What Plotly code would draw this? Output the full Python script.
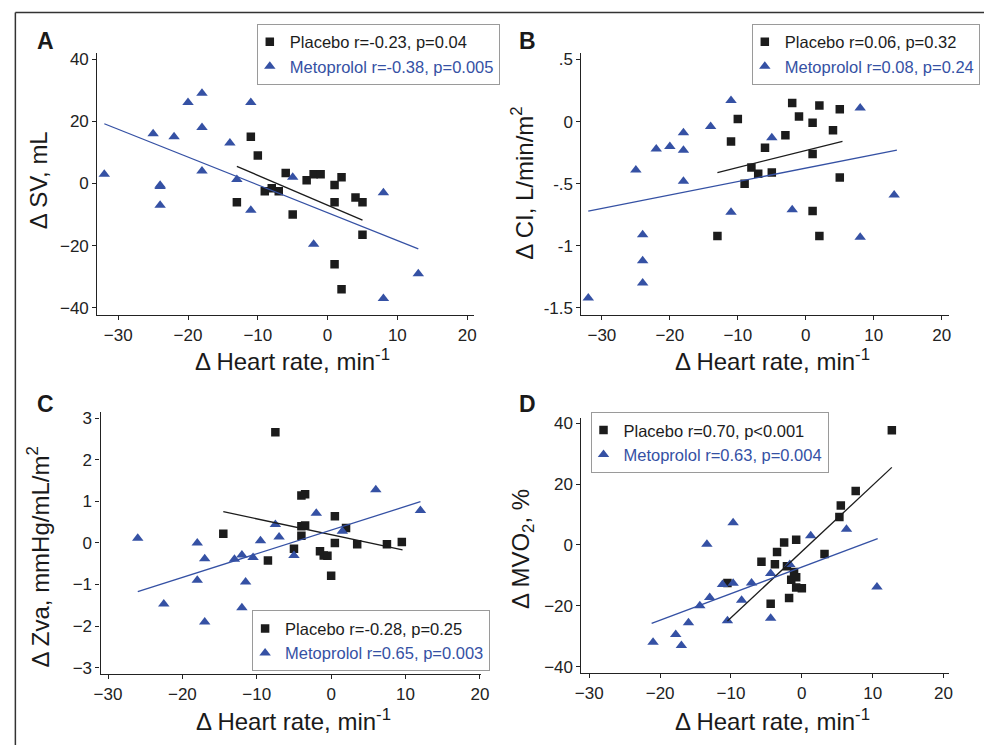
import plotly.graph_objects as go

W, H = 992, 748
BLUE = '#3551a4'
BLACK = '#1c1c1c'
FONT = 'Liberation Sans, Arial, sans-serif'

# ---------------- Panel A : delta SV ----------------
a_pla_x = [-11, -10, -13, -9, -8, -7, -6, -5, -3, -2, -1, 1, 2, 1, 4, 5, 5, 1, 2]
a_pla_y = [15, 9, -6, -2.5, -1.5, -2.5, 3.4, -10, 1, 3, 3, -0.5, 2, -6, -4.5, -6, -16.5, -26, -34]
a_met_x = [-32, -25, -22, -20, -18, -18, -18, -24, -24, -24, -14, -11, -13, -11, -5, -2, 8, 13, 8]
a_met_y = [3, 16, 15, 26, 29, 18, 4, -0.6, -1, -7, 13, 26, 1.3, -8.6, 2, -19.5, -3, -29, -37]
a_pla_fit_x, a_pla_fit_y = [-13, 5], [5.5, -11.8]
a_met_fit_x, a_met_fit_y = [-32, 13], [19.2, -21.0]
a_labels = ['Placebo r=-0.23, p=0.04', 'Metoprolol r=-0.38, p=0.005']

# ---------------- Panel B : delta CI ----------------
b_pla_x = [-10, -11, -13, -8, -7, -9, -5, -6, -3, -2, -1, 1, 2, 1, 4, 5, 5, 1, 2]
b_pla_y = [0.02, -0.16, -0.92, -0.37, -0.42, -0.50, -0.41, -0.21, -0.11, 0.15, 0.04, -0.01, 0.13, -0.26, -0.07, 0.10, -0.45, -0.72, -0.92]
b_met_x = [-32, -24, -24, -24, -25, -22, -20, -18, -18, -18, -14, -11, -11, -5, -2, 8, 8, 13]
b_met_y = [-1.42, -0.91, -1.12, -1.30, -0.39, -0.22, -0.20, -0.09, -0.23, -0.48, -0.04, 0.17, -0.73, -0.13, -0.71, 0.11, -0.93, -0.59]
b_pla_fit_x, b_pla_fit_y = [-13, 5.4], [-0.41, -0.16]
b_met_fit_x, b_met_fit_y = [-32, 13.4], [-0.72, -0.23]
b_labels = ['Placebo r=0.06, p=0.32', 'Metoprolol r=0.08, p=0.24']

# ---------------- Panel C : delta Zva ----------------
c_pla_x = [-7.5, -14.5, -8.5, -4, -3.5, -4, -3.5, -4, -5, -1.5, -1, -0.5, 0, 0.5, 0.5, 2, 3.5, 7.5, 9.5]
c_pla_y = [2.66, 0.22, -0.42, 1.14, 1.17, 0.40, 0.42, 0.17, -0.14, -0.20, -0.30, -0.31, -0.79, 0.64, 0.0, 0.36, -0.03, -0.03, 0.02]
c_met_x = [-26, -22.5, -18, -17, -18, -17, -13, -12, -11.5, -12, -10.5, -9.5, -7.5, -7, -5, -2, 1.5, 6, 12]
c_met_y = [0.11, -1.47, 0.0, -0.38, -0.90, -1.90, -0.39, -0.29, -0.94, -1.56, -0.35, 0.05, 0.44, 0.14, -0.30, 0.71, 0.28, 1.28, 0.78]
c_pla_fit_x, c_pla_fit_y = [-14.5, 9.6], [0.75, -0.17]
c_met_fit_x, c_met_fit_y = [-26, 12], [-1.17, 0.99]
c_labels = ['Placebo r=-0.28, p=0.25', 'Metoprolol r=0.65, p=0.003']

# ---------------- Panel D : delta MVO2 ----------------
d_pla_x = [12.7, 7.6, 5.5, 5.3, 3.2, -0.8, -2.5, -3.5, -5.7, -3.8, -2.1, -1.1, -1.5, -0.8, -0.8, 0, -1.8, -4.4, -10.5]
d_pla_y = [37.7, 17.7, 13, 9.2, -3, 1.7, 0.8, -2.3, -5.5, -6.3, -7, -8.9, -11.4, -10.6, -14, -14.2, -17.4, -19.3, -12.5]
d_met_x = [-21, -17.8, -17, -16, -14.4, -13, -13.4, -9.7, -11.2, -9.7, -10.5, -8.5, -7.1, -4.4, -4.4, -1.7, 1.25, 6.3, 10.6]
d_met_y = [-32, -29.4, -33, -25.6, -20, -17.3, 0.2, 7.3, -13, -12.6, -24.9, -18.2, -12.5, -9.4, -24.1, -6.4, 3, 5.2, -13.8]
d_pla_fit_x, d_pla_fit_y = [-10.5, 12.7], [-25.0, 25.5]
d_met_fit_x, d_met_fit_y = [-21.2, 10.7], [-25.8, 2.1]
d_labels = ['Placebo r=0.70, p<0.001', 'Metoprolol r=0.63, p=0.004']

x_ticks = [-30, -20, -10, 0, 10, 20]
x_title = 'Δ Heart rate, min<sup>-1</sup>'
y_titles = ['Δ SV, mL', 'Δ CI, L/min/m<sup>2</sup>', 'Δ Zva, mmHg/mL/m<sup>2</sup>', 'Δ MVO<sub>2</sub>, %']
panel_letters = ['A', 'B', 'C', 'D']

# pixel layout helpers
def fx(p):
    return p / W

def fy(p):
    return 1 - p / H

panels = [
    dict(data=(a_pla_x, a_pla_y, a_met_x, a_met_y, a_pla_fit_x, a_pla_fit_y, a_met_fit_x, a_met_fit_y),
         labels=a_labels, box=(91.7, 474.3, 49.3, 314), xr=[-33, 21], yr=[-42.3, 42.0],
         yt=[-40, -20, 0, 20, 40], ytt=None,
         leg=(377, 50.5), letter=(39.5, 37.5), ytitle=(32, 178.3), xtitle=(290, 359)),
    dict(data=(b_pla_x, b_pla_y, b_met_x, b_met_y, b_pla_fit_x, b_pla_fit_y, b_met_fit_x, b_met_fit_y),
         labels=b_labels, box=(583.3, 956, 49.3, 314), xr=[-33, 21], yr=[-1.557, 0.553],
         yt=[-1.5, -1, -0.5, 0, 0.5], ytt=['-1.5', '-1', '-.5', '0', '.5'],
         leg=(872, 50.5), letter=(528.3, 37), ytitle=(523, 181.3), xtitle=(777, 359)),
    dict(data=(c_pla_x, c_pla_y, c_met_x, c_met_y, c_pla_fit_x, c_pla_fit_y, c_met_fit_x, c_met_fit_y),
         labels=c_labels, box=(95, 481.7, 411.7, 676.7), xr=[-31, 20.2], yr=[-3.16, 3.15],
         yt=[-3, -2, -1, 0, 1, 2, 3], ytt=None,
         leg=(369.7, 642.8), letter=(38.8, 403.3), ytitle=(32, 558.3), xtitle=(291, 722.5)),
    dict(data=(d_pla_x, d_pla_y, d_met_x, d_met_y, d_pla_fit_x, d_pla_fit_y, d_met_fit_x, d_met_fit_y),
         labels=d_labels, box=(583.3, 956.7, 417.7, 675.7), xr=[-31.1, 20.8], yr=[-42.2, 41.8],
         yt=[-40, -20, 0, 20, 40], ytt=None,
         leg=(713.3, 442.5), letter=(528.3, 403.3), ytitle=(524, 550), xtitle=(777, 722.5)),
]

fig = go.Figure()
annotations = []
layout = dict()

for i, p in enumerate(panels):
    sfx = '' if i == 0 else str(i + 1)
    xa, ya = 'x' + sfx, 'y' + sfx
    lg = 'legend' + sfx
    px_, py_, mx_, my_, pfx, pfy, mfx, mfy = p['data']
    fig.add_trace(go.Scatter(x=px_, y=py_, mode='markers', xaxis=xa, yaxis=ya, legend=lg,
                             name=p['labels'][0],
                             marker=dict(symbol='square', size=8.5, color=BLACK)))
    fig.add_trace(go.Scatter(x=mx_, y=my_, mode='markers', xaxis=xa, yaxis=ya, legend=lg,
                             name='<span style="color:%s">%s</span>' % (BLUE, p['labels'][1]),
                             marker=dict(symbol='triangle-up', size=10, color=BLUE)))
    fig.add_trace(go.Scatter(x=pfx, y=pfy, mode='lines', xaxis=xa, yaxis=ya, showlegend=False,
                             line=dict(color=BLACK, width=1.3)))
    fig.add_trace(go.Scatter(x=mfx, y=mfy, mode='lines', xaxis=xa, yaxis=ya, showlegend=False,
                             line=dict(color=BLUE, width=1.3)))

    x0, x1, y0, y1 = p['box']
    axis_common = dict(showline=True, linecolor='#222', linewidth=1.2, ticks='outside', ticklen=4,
                       tickwidth=1, tickcolor='#222', showgrid=False, zeroline=False,
                       tickfont=dict(family=FONT, size=17, color='#222'), fixedrange=True)
    layout['xaxis' + sfx] = dict(domain=[fx(x0), fx(x1)], range=p['xr'], anchor=ya,
                                 tickmode='array', tickvals=x_ticks, **axis_common)
    yaxis = dict(domain=[fy(y1), fy(y0)], range=p['yr'], anchor=xa, tickmode='array',
                 tickvals=p['yt'], **axis_common)
    if p['ytt'] is not None:
        yaxis['ticktext'] = p['ytt']
    layout['yaxis' + sfx] = yaxis

    lx, ly = p['leg']
    layout[lg] = dict(x=fx(lx), y=fy(ly), xanchor='center', yanchor='middle', xref='paper',
                      yref='paper', bgcolor='white', bordercolor='#9a9a9a', borderwidth=1,
                      font=dict(family=FONT, size=16.5, color=BLACK), itemwidth=30,
                      indentation=-8, tracegroupgap=0)

    ltx, lty = p['letter']
    annotations.append(dict(text='<b>%s</b>' % panel_letters[i], x=fx(ltx), y=fy(lty),
                            xref='paper', yref='paper', xanchor='center', yanchor='middle',
                            showarrow=False, font=dict(family=FONT, size=23, color='#1a1a1a')))
    tx, ty = p['ytitle']
    annotations.append(dict(text=y_titles[i], x=fx(tx), y=fy(ty), xref='paper', yref='paper',
                            xanchor='center', yanchor='middle', textangle=-90, showarrow=False,
                            font=dict(family=FONT, size=24, color='#1a1a1a')))
    tx, ty = p['xtitle']
    annotations.append(dict(text=x_title, x=fx(tx), y=fy(ty), xref='paper', yref='paper',
                            xanchor='center', yanchor='middle', showarrow=False,
                            font=dict(family=FONT, size=24, color='#1a1a1a')))

shapes = [
    dict(type='line', xref='paper', yref='paper', x0=fx(8.5), x1=fx(8.5), y0=0, y1=fy(8.5),
         line=dict(color='#333', width=1.5)),
    dict(type='line', xref='paper', yref='paper', x0=fx(8.5), x1=1, y0=fy(8.5), y1=fy(8.5),
         line=dict(color='#333', width=1.5)),
]

fig.update_layout(width=W, height=H, margin=dict(l=0, r=0, t=0, b=0, pad=0),
                  paper_bgcolor='white', plot_bgcolor='white', showlegend=True,
                  annotations=annotations, shapes=shapes,
                  font=dict(family=FONT, color='#1a1a1a'), **layout)

fig.write_html('out.html')
